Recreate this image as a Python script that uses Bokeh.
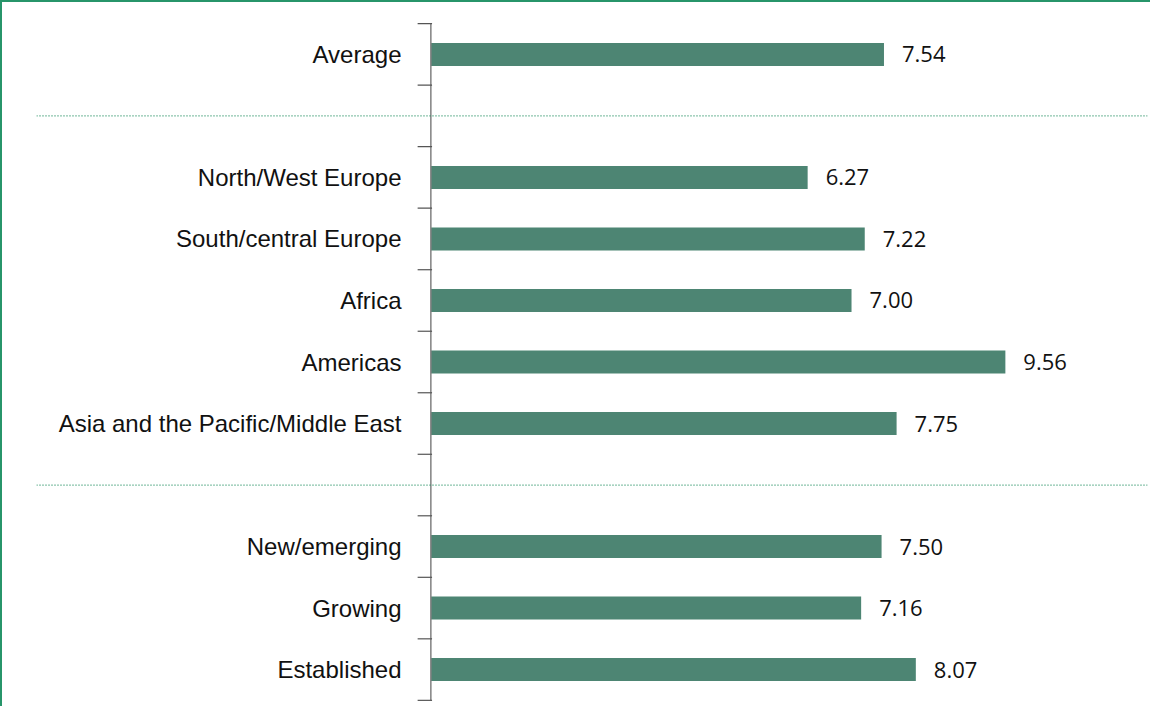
from bokeh.plotting import figure
from bokeh.models import FactorRange, Range1d, Span, ColumnDataSource
from bokeh.core.properties import value
from bokeh.embed import file_html
from bokeh.resources import INLINE

# ---- data ----
categories = ["Average",
              "North/West Europe", "South/central Europe", "Africa", "Americas",
              "Asia and the Pacific/Middle East",
              "New/emerging", "Growing", "Established"]
values = [7.54, 6.27, 7.22, 7.00, 9.56, 7.75, 7.50, 7.16, 8.07]
value_labels = ["7.54", "6.27", "7.22", "7.00", "9.56", "7.75", "7.50", "7.16", "8.07"]
# slot order top->bottom, blank slots separate the groups
slots = ["Average", " ",
         "North/West Europe", "South/central Europe", "Africa", "Americas",
         "Asia and the Pacific/Middle East", "  ",
         "New/emerging", "Growing", "Established"]
separators = [" ", "  "]

BAR = "#4d8573"
GREEN = "#27956a"

factors = slots[::-1]
p = figure(width=1150, height=706, output_backend="svg", toolbar_location=None,
           y_range=FactorRange(factors=factors, range_padding=0.1,
                               range_padding_units="absolute"),
           x_range=Range1d(-6.562, 11.925),
           min_border_left=34, min_border_right=5, min_border_top=15,
           min_border_bottom=2)
p.outline_line_color = None
p.xgrid.visible = False
p.ygrid.visible = False
p.xaxis.visible = False
p.background_fill_color = "white"
p.border_fill_color = "white"
p.styles = {"border-top": f"2px solid {GREEN}", "border-left": f"2px solid {GREEN}"}

src = ColumnDataSource(dict(cat=categories, val=values, lab=value_labels))
p.hbar(y="cat", right="val", left=0, height=0.375, source=src,
       fill_color=BAR, line_color=None)
p.text(x="val", y="cat", text="lab", source=src, x_offset=18,
       text_baseline="middle", text_align="left",
       text_font=value("Open Sans"), text_font_size="22px", text_color="#111111")

# y axis: line and boundary ticks
n = len(slots)
bounds = list(range(n + 1))
p.segment(x0=[0], y0=[0], x1=[0], y1=[n], line_color="#808080", line_width=1.5)
p.segment(x0=[-0.22] * len(bounds), y0=bounds, x1=[0.02] * len(bounds), y1=bounds,
          line_color="#555555", line_width=1.2)

yax = p.yaxis[0]
yax.axis_line_color = None
yax.major_tick_in = 0
yax.major_tick_out = 0
yax.minor_tick_line_color = None
yax.major_label_standoff = -365
yax.major_label_text_font = "Liberation Sans"
yax.major_label_text_font_size = "24px"
yax.major_label_text_color = "#111111"

for s in separators:
    loc = factors.index(s) + 0.5
    p.add_layout(Span(location=loc, dimension="width", line_color="#1b8a5c",
                      line_width=1.3, line_dash="1 2"))

open("out.html", "w").write(file_html(p, INLINE))
